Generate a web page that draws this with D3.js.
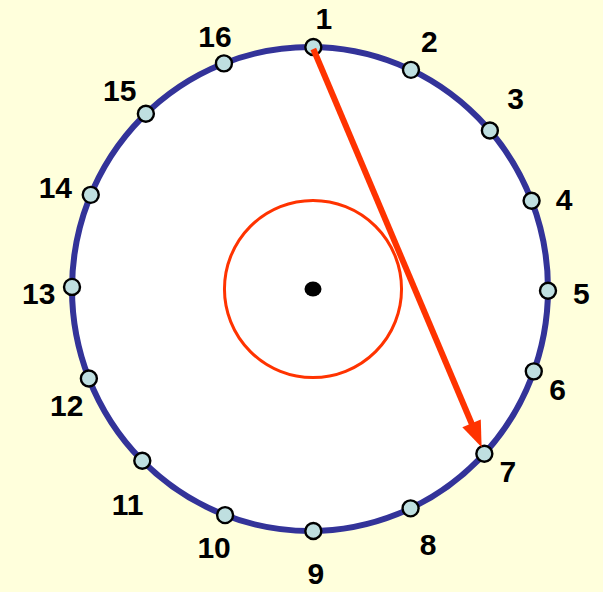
<!DOCTYPE html>
<html>
<head>
<meta charset="utf-8">
<script src="https://cdn.jsdelivr.net/npm/d3@7"></script>
<style>
  html, body { margin: 0; padding: 0; background: #ffffdc; }
  svg { display: block; }
</style>
</head>
<body>
<svg id="chart"></svg>
<script>
// 16 numbered points around the ring (angle in degrees, clockwise from top)
const pointLabels = ["1", "2", "3", "4", "5", "6", "7", "8", "9", "10", "11", "12", "13", "14", "15", "16"];
const pointAngles = [0.8, 25.1, 49.1, 68.6, 90.4, 109.9, 132.9, 155, 179.2, 200.9, 224.8, 248.3, 270.5, 292.9, 316.4, 338.8];
// where each number label sits (angle, distance as a fraction of ring radius)
const labelAngles = [3, 26.1, 47.6, 70.8, 90.8, 111.7, 132.1, 154.8, 178.8, 200.7, 220.7, 244.8, 269.2, 291.5, 315.7, 339.1];
const labelDist = [1.12, 1.14, 1.17, 1.13, 1.14, 1.12, 1.12, 1.165, 1.175, 1.14, 1.175, 1.13, 1.14, 1.15, 1.145, 1.12];
// chord drawn as an arrow
const arrowFrom = "1";
const arrowTo = "7";
// inner circle, fraction of ring radius
const innerRadius = 0.372;

const width = 603;
const height = 592;
const cx = 310, cy = 289;
const rx = 238, ry = 242;

const svg = d3.select("#chart")
  .attr("width", width)
  .attr("height", height);

svg.append("rect")
  .attr("width", width)
  .attr("height", height)
  .attr("fill", "#ffffdc");

const x = d3.scaleLinear().domain([-1, 1]).range([cx - rx, cx + rx]);
const y = d3.scaleLinear().domain([-1, 1]).range([cy - ry, cy + ry]);

const rad = d3.scaleLinear().domain([0, 360]).range([0, 2 * Math.PI]);
const pos = (deg, f = 1) => {
  const [px, py] = d3.pointRadial(rad(deg), f);
  return [x(px), y(py)];
};

const points = pointLabels.map((label, i) => ({
  label,
  angle: pointAngles[i],
  labelAngle: labelAngles[i],
  labelDist: labelDist[i],
}));

// big ring
svg.append("ellipse")
  .attr("cx", x(0))
  .attr("cy", y(0))
  .attr("rx", x(1) - x(0))
  .attr("ry", y(1) - y(0))
  .attr("fill", "#ffffff")
  .attr("stroke", "#333399")
  .attr("stroke-width", 6);

// inner red circle
svg.append("ellipse")
  .attr("cx", x(0) + 3)
  .attr("cy", y(0))
  .attr("rx", x(innerRadius) - x(0))
  .attr("ry", (x(innerRadius) - x(0)))
  .attr("fill", "none")
  .attr("stroke", "#ff3300")
  .attr("stroke-width", 3);

// centre dot
svg.append("ellipse")
  .attr("cx", x(0) + 3)
  .attr("cy", y(0))
  .attr("rx", 8.5)
  .attr("ry", 7.5)
  .attr("fill", "#000");

// points
svg.selectAll(".pt")
  .data(points)
  .enter()
  .append("circle")
  .attr("class", "pt")
  .attr("cx", d => pos(d.angle)[0])
  .attr("cy", d => pos(d.angle)[1])
  .attr("r", 8)
  .attr("fill", "#bfdfe0")
  .attr("stroke", "#000")
  .attr("stroke-width", 2.4);

// labels
svg.selectAll(".lbl")
  .data(points)
  .enter()
  .append("text")
  .attr("class", "lbl")
  .attr("x", d => pos(d.labelAngle, d.labelDist)[0])
  .attr("y", d => pos(d.labelAngle, d.labelDist)[1])
  .attr("dy", "0.36em")
  .attr("text-anchor", "middle")
  .attr("font-family", "'Liberation Sans', Arial, sans-serif")
  .attr("font-weight", "bold")
  .attr("font-size", 30)
  .attr("fill", "#000")
  .text(d => d.label);

// arrow chord
const p0 = points.find(d => d.label === arrowFrom);
const p1 = points.find(d => d.label === arrowTo);
const [x0, y0] = pos(p0.angle);
const [x1, y1] = pos(p1.angle);
const dx = x1 - x0, dy = y1 - y0;
const len = Math.hypot(dx, dy);
const ux = dx / len, uy = dy / len;
const tipBack = 7;   // tip stops on the point's rim
const headLen = 26, headHalf = 10;
const tx = x1 - ux * tipBack, ty = y1 - uy * tipBack;
const bx = tx - ux * headLen, by = ty - uy * headLen;

svg.append("line")
  .attr("x1", x0)
  .attr("y1", y0 + 2)
  .attr("x2", bx + ux * 4)
  .attr("y2", by + uy * 4)
  .attr("stroke", "#ff3300")
  .attr("stroke-width", 6);

svg.append("path")
  .attr("d", d3.line()([
    [tx, ty],
    [bx - uy * headHalf, by + ux * headHalf],
    [bx + uy * headHalf, by - ux * headHalf],
  ]) + "Z")
  .attr("fill", "#ff3300");
</script>
</body>
</html>
